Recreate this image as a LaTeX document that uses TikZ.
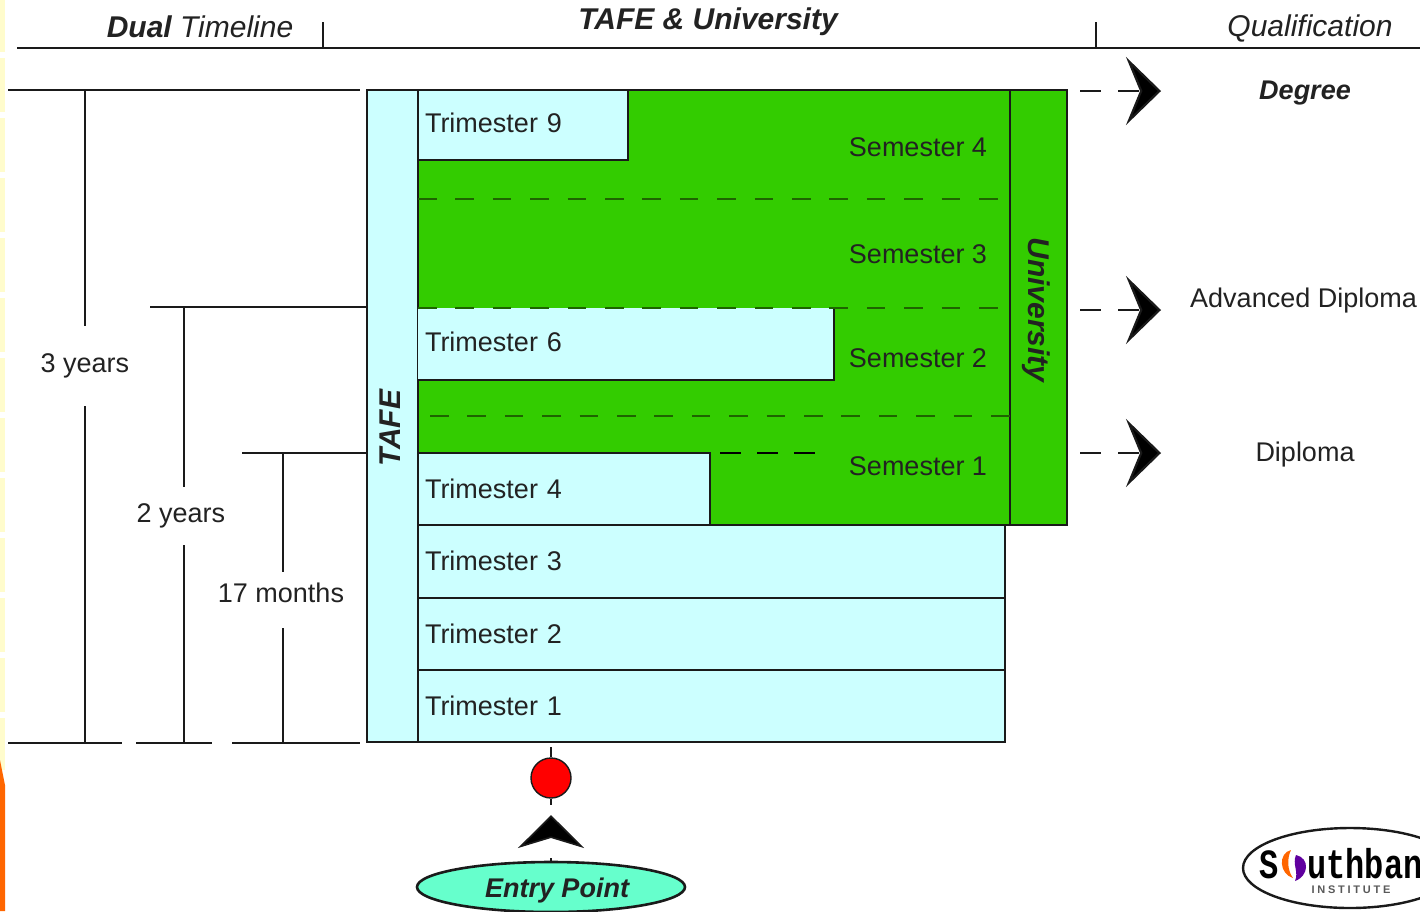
\documentclass[tikz,border=0pt]{standalone}
\usepackage{fontspec}
\setmainfont{Liberation Sans}
\newfontfamily\logobig{Liberation Mono}
\newfontfamily\logosmall[LetterSpace=25]{Liberation Sans}
\usetikzlibrary{arrows.meta,shapes.geometric}
\definecolor{tafe}{HTML}{CCFFFF}
\definecolor{uni}{HTML}{33CC00}
\definecolor{ink}{HTML}{1A1A1A}
\definecolor{entry}{HTML}{66FFCC}
\definecolor{txt}{HTML}{222222}
\definecolor{dashgreen}{HTML}{1E6400}
\tikzset{
  lbl/.style={font=\fontsize{27}{30}\selectfont,text=txt,inner sep=0pt},
  bi/.style={lbl,font=\fontsize{30}{32}\selectfont\bfseries\itshape},
  box/.style={draw=ink,line width=2.2pt,anchor=north west,inner sep=0pt,outer sep=0pt},
  term/.style={box,fill=tafe,font=\fontsize{27}{30}\selectfont,text=txt,align=left,inner xsep=7pt,minimum height=#1},
  rule/.style={draw=ink,line width=2.6pt},
  dash line/.style={draw=dashgreen,line width=2.2pt,dash pattern=on 18.5pt off 18.9pt},
  qual/.style={draw=ink,line width=2.2pt,dash pattern=on 21pt off 17pt,-{Stealth[length=35pt,width=68pt,inset=14pt,fill=black]}},
}
\begin{document}
\begin{tikzpicture}[x=1pt,y=-1pt]
\useasboundingbox (0,0) rectangle (1420,911);
\clip (0,0) rectangle (1420,911);
\fill[white] (0,0) rectangle (1420,911);
% page edge
\draw[line width=5pt,color=yellow!20,dash pattern=on 54pt off 6pt,dash phase=2pt] (2.5,0) -- (2.5,770);
\fill[color=orange!80!red] (0,760) -- (5,785) -- (5,911) -- (0,911) -- cycle;
% header
\node[bi] (hDual) at (200,27) {Dual {\mdseries Timeline}};
\node[bi] (hTafe) at (708,22) {TAFE \& University};
\node[lbl,font=\fontsize{30}{32}\selectfont\itshape] (hQual) at (1310,28) {Qualification};
\coordinate (hL) at (17,48); \coordinate (hR) at (1420,48);
\coordinate (t1a) at (323,22); \coordinate (t1b) at (323,48);
\coordinate (t2a) at (1096,22); \coordinate (t2b) at (1096,48);
\draw[rule] (hL) -- (hR);
\draw[rule] (t1a) -- (t1b);
\draw[rule] (t2a) -- (t2b);
% green block and boxes
\node[box,fill=uni,minimum width=592pt,minimum height=435pt] (green) at (418,90) {};
\node[box,fill=uni,minimum width=57pt,minimum height=435pt] (univ) at (1010,90) {};
\node[box,fill=tafe,minimum width=51pt,minimum height=652pt] (tafe) at (367,90) {};
\node[term=70pt,text width=196pt] (t9) at (418,90) {\raisebox{5pt}{Trimester 9}};
\node[term=72pt,text width=402pt,draw=none] (t6) at (418,308) {\raisebox{4pt}{Trimester 6}};
\draw[draw=ink,line width=2.2pt] (t6.north east) -- (t6.south east) -- (t6.south west);
\node[term=72pt,text width=278pt] (t4) at (418,453) {Trimester 4};
\node[term=73pt,text width=573pt] (t3) at (418,525) {\raisebox{2pt}{Trimester 3}};
\node[term=72pt,text width=573pt] (t2) at (418,598) {Trimester 2};
\node[term=72pt,text width=573pt] (t1) at (418,670) {Trimester 1};
\node[bi,rotate=90] (lTafe) at (390,428) {TAFE};
\node[bi,rotate=-90] (lUni) at (1036,310) {University};
\node[lbl] (s4) at (918,147) {Semester 4};
\node[lbl] (s3) at (918,254) {Semester 3};
\node[lbl] (s2) at (918,358) {Semester 2};
\node[lbl] (s1) at (918,466) {Semester 1};
% semester dashes
\coordinate (d1a) at (418,199); \coordinate (d1b) at (1000,199);
\coordinate (d2a) at (418,308); \coordinate (d2b) at (1000,308);
\coordinate (d3a) at (430,416); \coordinate (d3b) at (1010,416);
\coordinate (d4a) at (720,453); \coordinate (d4b) at (816,453);
\draw[dash line] (d1a) -- (d1b);
\draw[dash line] (d2a) -- (d2b);
\draw[dash line] (d3a) -- (d3b);
\draw[draw=black,line width=2.4pt,dash pattern=on 21pt off 16pt] (d4a) -- (d4b);
% qualification
\node[lbl,font=\fontsize{27}{30}\selectfont\bfseries\itshape] (deg) at (1305,93) {Degree};
\node[lbl,anchor=west] (adv) at (1190,301) {Advanced Diploma};
\node[lbl] (dip) at (1305,455) {Diploma};
\coordinate (q1a) at (1080,91); \coordinate (q1b) at (1161,91);
\coordinate (q2a) at (1080,310); \coordinate (q2b) at (1161,310);
\coordinate (q3a) at (1080,453); \coordinate (q3b) at (1161,453);
\draw[qual] (q1a) -- (q1b);
\draw[qual] (q2a) -- (q2b);
\draw[qual] (q3a) -- (q3b);
% timeline
\coordinate (a0) at (8,90); \coordinate (a1) at (360,90);
\coordinate (b0) at (150,307); \coordinate (b1) at (367,307);
\coordinate (c0) at (242,453); \coordinate (c1) at (367,453);
\coordinate (e0) at (8,743); \coordinate (e1) at (122,743);
\coordinate (e2) at (136,743); \coordinate (e3) at (212,743);
\coordinate (e4) at (232,743); \coordinate (e5) at (360,743);
\draw[rule] (a0) -- (a1);
\draw[rule] (b0) -- (b1);
\draw[rule] (c0) -- (c1);
\draw[rule] (e0) -- (e1);
\draw[rule] (e2) -- (e3);
\draw[rule] (e4) -- (e5);
\node[lbl,minimum height=80pt] (y3) at (85,366) {3 years};
\node[lbl,minimum height=58pt] (y2) at (181,516) {2 years};
\node[lbl,minimum height=55pt] (m17) at (281,600) {\raisebox{15pt}{17 months}};
\coordinate (y3t) at (85,90); \coordinate (y3b) at (85,743);
\coordinate (y2t) at (184,307); \coordinate (y2b) at (184,743);
\coordinate (m17t) at (283,453); \coordinate (m17b) at (283,743);
\draw[rule] (y3t) -- (y3t |- y3.north);
\draw[rule] (y3b) -- (y3b |- y3.south);
\draw[rule] (y2t) -- (y2t |- y2.north);
\draw[rule] (y2b) -- (y2b |- y2.south);
\draw[rule] (m17t) -- (m17t |- m17.north);
\draw[rule] (m17b) -- (m17b |- m17.south);
% entry
\node[circle,draw=ink,line width=1.4pt,fill=red,minimum size=40pt,inner sep=0pt] (dot) at (551,778) {};
\node[ellipse,draw=ink,line width=2.6pt,fill=entry,minimum width=268pt,minimum height=50pt,inner sep=0pt] (ep) at (551,887) {};
\node[lbl,font=\fontsize{27}{30}\selectfont\bfseries\itshape] (epl) at (557,891) {Entry Point};
\coordinate (e6) at (551,747); \coordinate (e7) at (551,805);
\coordinate (e9) at (551,815);
\draw[draw=ink,line width=1.8pt] (e6) -- (dot.north);
\draw[draw=ink,line width=1.8pt] (dot.south) -- (e7);
\draw[draw=ink,line width=1.6pt,dash pattern=on 3pt off 40pt,-{Stealth[length=33pt,width=66pt,inset=10pt,fill=black]}] (ep.north) -- (e9);
% logo
\node[ellipse,draw=ink,line width=2.4pt,fill=white,minimum width=214pt,minimum height=80pt,inner sep=0pt] (logo) at (1350,868) {};
\node[font=\logobig\bfseries\fontsize{32}{32}\selectfont,yscale=1.3,inner sep=0pt,anchor=base,text=black] (lS) at (1269,878) {S};
\node[font=\logobig\bfseries\fontsize{32}{32}\selectfont,yscale=1.3,inner sep=0pt,anchor=base west,text=black] (lU) at (1307,878) {uthban};
\fill[color=orange!80!red] (1291,850) .. controls (1278,853) and (1279,874) .. (1293,878) .. controls (1287,870) and (1287,858) .. (1291,850) -- cycle;
\fill[color=violet!75!blue] (1296,855) .. controls (1310,858) and (1309,876) .. (1295,881) .. controls (1299,872) and (1292,864) .. (1296,855) -- cycle;
\node[font=\logosmall\bfseries\fontsize{11}{11}\selectfont,inner sep=0pt,text=black!65,anchor=base] (lI) at (1351,893) {INSTITUTE};
\end{tikzpicture}
\end{document}
